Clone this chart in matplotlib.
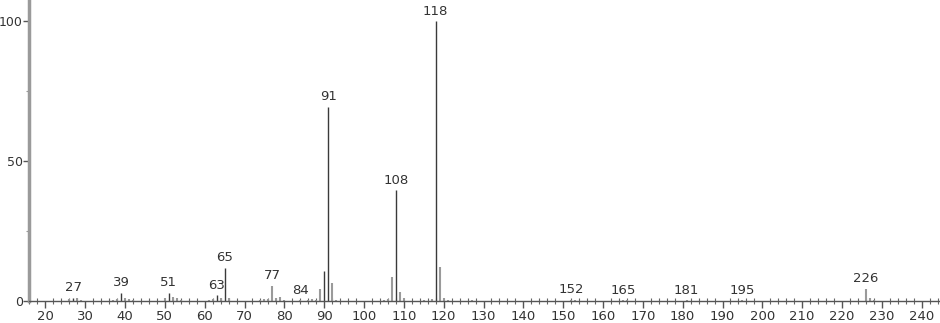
import numpy as np
import matplotlib
matplotlib.use('Agg')
import matplotlib.pyplot as plt
from matplotlib.ticker import MultipleLocator

# mass spectrum peaks (m/z, relative intensity)
mz = [26, 27, 28, 29, 37, 38, 39, 40, 41, 42,
      50, 51, 52, 53, 54, 61, 62, 63, 64, 65, 66,
      74, 75, 76, 77, 78, 79, 80, 84, 86, 87, 88,
      89, 90, 91, 92, 93, 105, 106, 107, 108, 109, 110,
      115, 117, 118, 119, 120, 121, 127,
      152, 153, 165, 166, 181, 195, 226, 227, 228]
intensity = [0.6, 1.2, 1.0, 0.5, 0.3, 0.7, 2.9, 1.0, 0.8, 0.3,
             1.0, 2.9, 1.5, 1.2, 0.4, 0.5, 0.8, 2.1, 1.0, 11.9, 0.9,
             0.5, 0.6, 0.6, 5.4, 1.0, 1.5, 0.4, 0.3, 0.5, 0.6, 0.4,
             4.2, 10.8, 69.3, 6.3, 0.4, 0.5, 0.6, 8.6, 39.6, 3.3, 1.1,
             0.3, 0.6, 100.0, 12.3, 1.2, 0.4, 0.5,
             0.4, 0.3, 0.3, 0.3, 0.3, 0.3, 4.4, 0.9, 0.4]
dark_peaks = [27, 39, 51, 63, 65, 90, 91, 108, 118]
labeled = [27, 39, 51, 63, 65, 77, 84, 91, 108, 118, 152, 165, 181, 195, 226]

fig = plt.figure(figsize=(9.4, 3.23), dpi=100)
ax = fig.add_axes([29 / 940, 1 - 301 / 323, 1 - 29 / 940, 301 / 323])

for m, v in zip(mz, intensity):
    if m in dark_peaks:
        ax.vlines(m, 0, v, color='#3a3a3a', lw=1.0)
    else:
        ax.vlines(m, 0, v, color='#9a9a9a', lw=1.5)

for m, v in zip(mz, intensity):
    if m in labeled:
        ax.annotate(str(m), (m, v), xytext=(0, 2.5), textcoords='offset points',
                    ha='center', va='bottom', fontsize=9.5, color='#333333')

ax.set_xlim(15.9, 244.6)
ax.set_ylim(0, 107.5)

ax.xaxis.set_major_locator(MultipleLocator(10))
ax.xaxis.set_minor_locator(MultipleLocator(2))
ax.yaxis.set_major_locator(MultipleLocator(50))
ax.yaxis.set_minor_locator(MultipleLocator(25))
ax.set_xticks(np.arange(20, 250, 10))

ax.tick_params(axis='x', which='major', direction='out', length=5, width=1,
               color='#555555', labelsize=9.5, labelcolor='#333333', pad=1.5)
ax.tick_params(axis='x', which='minor', direction='inout', length=4, width=0.8,
               color='#666666')
ax.tick_params(axis='y', which='major', direction='out', length=4, width=1,
               color='#555555', labelsize=9, labelcolor='#333333', pad=0.5)
ax.tick_params(axis='y', which='minor', direction='out', length=2, width=0.8,
               color='#999999')

for s in ['top', 'right']:
    ax.spines[s].set_visible(False)
ax.spines['left'].set_color('#9a9a9a')
ax.spines['left'].set_linewidth(2.5)
ax.spines['bottom'].set_color('#555555')
ax.spines['bottom'].set_linewidth(1)

fig.savefig('out.png', dpi=100)
